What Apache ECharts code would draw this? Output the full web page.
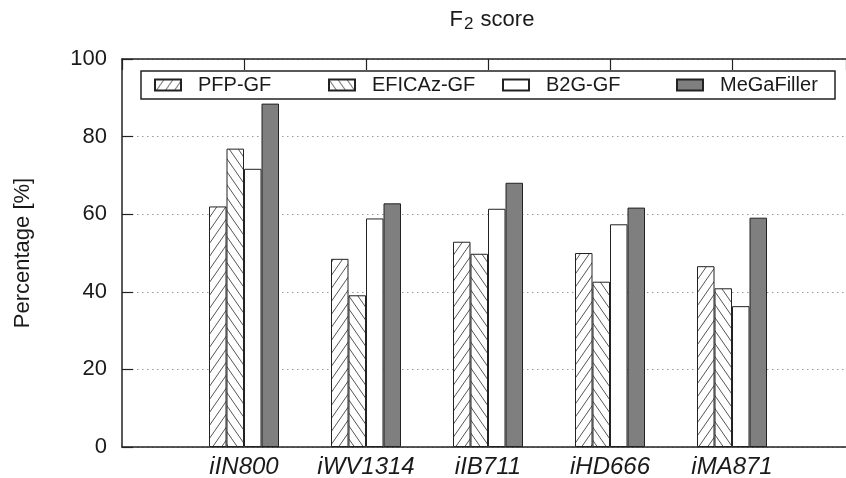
<!DOCTYPE html>
<html>
<head>
<meta charset="utf-8">
<script src="https://cdn.jsdelivr.net/npm/echarts@6/dist/echarts.min.js"></script>
<style>html,body{margin:0;padding:0;background:#fff;}#c{width:846px;height:478px;}</style>
</head>
<body>
<div id="c"></div>
<script>
const categories = ['iIN800', 'iWV1314', 'iIB711', 'iHD666', 'iMA871'];
const seriesNames = ['PFP-GF', 'EFICAz-GF', 'B2G-GF', 'MeGaFiller'];
const pfpGF = [62.0, 48.5, 52.9, 50.0, 46.6];
const eficazGF = [76.9, 39.1, 49.8, 42.6, 40.9];
const b2gGF = [71.7, 58.9, 61.4, 57.4, 36.3];
const megaFiller = [88.5, 62.8, 68.1, 61.7, 59.1];
const yTicks = [0, 20, 40, 60, 80, 100];

const FONT = "'Liberation Sans', Arial, Helvetica, sans-serif";
const INK = '#1a1a1a';

function hatch(dir) {
  const w = 9, h = 13;
  const c = document.createElement('canvas');
  c.width = w; c.height = h;
  const g = c.getContext('2d');
  g.fillStyle = '#fff'; g.fillRect(0, 0, w, h);
  g.strokeStyle = '#555'; g.lineWidth = 1;
  for (const off of [-w, 0, w]) {
    g.beginPath();
    if (dir > 0) { g.moveTo(off, h); g.lineTo(off + w, 0); }
    else { g.moveTo(off, 0); g.lineTo(off + w, h); }
    g.stroke();
  }
  return { image: c, repeat: 'repeat' };
}

// categories sit at x = 1..5 on a numeric axis; the frame's right edge runs off the page
const X_MAX = 724 / 122;
const catLabel = v => {
  const i = Math.round(v);
  return Math.abs(v - i) < 1e-6 && i >= 1 && i <= categories.length ? categories[i - 1] : '';
};
const toPoints = arr => arr.map((v, i) => [i + 1, v]);

const fills = [hatch(1), hatch(-1), '#ffffff', '#7f7f7f'];
const values = [pfpGF, eficazGF, b2gGF, megaFiller];

const chart = echarts.init(document.getElementById('c'), null, { renderer: 'canvas' });
chart.setOption({
  animation: false,
  backgroundColor: '#fff',
  textStyle: { fontFamily: FONT },
  title: {
    text: '{f|F}{s|2}{f| score}',
    left: 487,
    top: 4,
    textAlign: 'center',
    textStyle: {
      fontWeight: 'normal',
      rich: {
        f: { fontSize: 22, lineHeight: 24, verticalAlign: 'top', color: INK, fontFamily: FONT, fontWeight: 'normal' },
        s: { fontSize: 17, lineHeight: 17, verticalAlign: 'bottom', padding: [12, 1, 0, 1], color: INK, fontFamily: FONT, fontWeight: 'normal' }
      }
    }
  },
  legend: {
    left: 141,
    top: 71,
    orient: 'horizontal',
    padding: [4, 15, 4, 13],
    borderColor: '#222',
    borderWidth: 1.5,
    backgroundColor: '#fff',
    icon: 'rect',
    itemWidth: 26,
    itemHeight: 11,
    itemGap: 10,
    selectedMode: false,
    textStyle: { fontSize: 20, lineHeight: 19, color: INK, fontFamily: FONT, width: 120, padding: [0, 0, 0, 12] },
    data: seriesNames.map((n, i) => i === seriesNames.length - 1
      ? { name: n, textStyle: { width: 100 } }
      : { name: n })
  },
  grid: { left: 122, right: 0, top: 59, bottom: 31, containLabel: false, outerBoundsMode: 'none' },
  xAxis: [
    {
      type: 'value',
      min: 0,
      max: X_MAX,
      interval: 1,
      position: 'bottom',
      axisLine: { show: true, lineStyle: { color: '#222', width: 1.5 } },
      axisTick: { show: false },
      axisLabel: { fontSize: 24, fontStyle: 'italic', color: INK, margin: 8, fontFamily: FONT, formatter: catLabel, showMinLabel: true, showMaxLabel: true },
      splitLine: { show: false }
    },
    {
      type: 'value',
      min: 0,
      max: X_MAX,
      interval: 1,
      position: 'top',
      axisLine: { show: true, lineStyle: { color: '#222', width: 1.5 } },
      axisTick: { show: true, inside: true, length: 11, lineStyle: { color: '#222', width: 1.2 } },
      axisLabel: { show: false },
      splitLine: { show: false }
    }
  ],
  yAxis: {
    type: 'value',
    min: yTicks[0],
    max: yTicks[yTicks.length - 1],
    interval: 20,
    name: 'Percentage [%]',
    nameLocation: 'middle',
    nameGap: 88,
    nameTextStyle: { fontSize: 22, color: INK, fontFamily: FONT },
    axisLine: { show: true, lineStyle: { color: '#222', width: 1.5 } },
    axisTick: { show: true, inside: true, length: 11, lineStyle: { color: '#222', width: 1.2 } },
    axisLabel: { fontSize: 22, color: INK, margin: 15, fontFamily: FONT },
    splitLine: { show: true, lineStyle: { color: '#999', width: 1.2, type: [1.5, 3.5] } }
  },
  series: seriesNames.map((n, i) => ({
    name: n,
    type: 'bar',
    xAxisIndex: 0,
    barWidth: 17.5,
    barGap: '0%',
    data: toPoints(values[i]),
    itemStyle: { color: fills[i], borderColor: '#222', borderWidth: 1 },
    emphasis: { disabled: true }
  }))
});
</script>
</body>
</html>
